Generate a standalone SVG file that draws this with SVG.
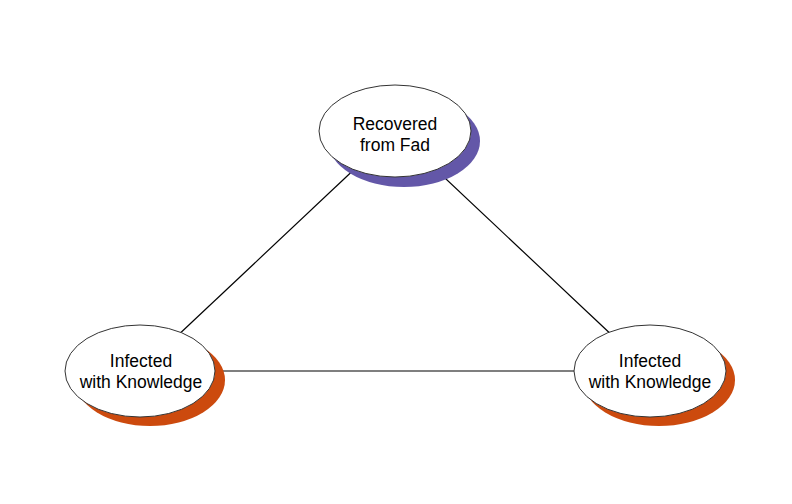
<svg xmlns="http://www.w3.org/2000/svg" width="792" height="504" viewBox="0 0 792 504">
<style>
.edge{stroke:#000;stroke-width:1.2;fill:none}
.body{fill:#fff;stroke:#333;stroke-width:1}
.sh-p{fill:#6357a8}
.sh-o{fill:#cc4a0e}
.lbl{font-family:"Liberation Sans",Arial,sans-serif;font-size:17.5px;fill:#000;text-anchor:middle}
</style>
<rect width="792" height="504" fill="#fff"/>
<g id="connectors">
<line class="edge" x1="395" y1="131" x2="140" y2="371"/>
<line class="edge" x1="395" y1="131" x2="650" y2="371"/>
<line class="edge" x1="140" y1="371" x2="650" y2="371"/>
</g>
<g id="recovered">
<ellipse class="sh-p" cx="404" cy="141" rx="76" ry="46"/>
<ellipse class="body" cx="395" cy="131" rx="76" ry="46"/>
<text class="lbl" x="395" y="130">Recovered</text>
<text class="lbl" x="395" y="151">from Fad</text>
</g>
<g id="infected-left">
<ellipse class="sh-o" cx="150" cy="380" rx="75" ry="46"/>
<ellipse class="body" cx="140" cy="371" rx="75" ry="46"/>
<text class="lbl" x="141" y="367">Infected</text>
<text class="lbl" x="141" y="388">with Knowledge</text>
</g>
<g id="infected-right">
<ellipse class="sh-o" cx="659" cy="380" rx="76" ry="46"/>
<ellipse class="body" cx="650" cy="371" rx="76" ry="46"/>
<text class="lbl" x="650" y="367">Infected</text>
<text class="lbl" x="650" y="388">with Knowledge</text>
</g>
</svg>
